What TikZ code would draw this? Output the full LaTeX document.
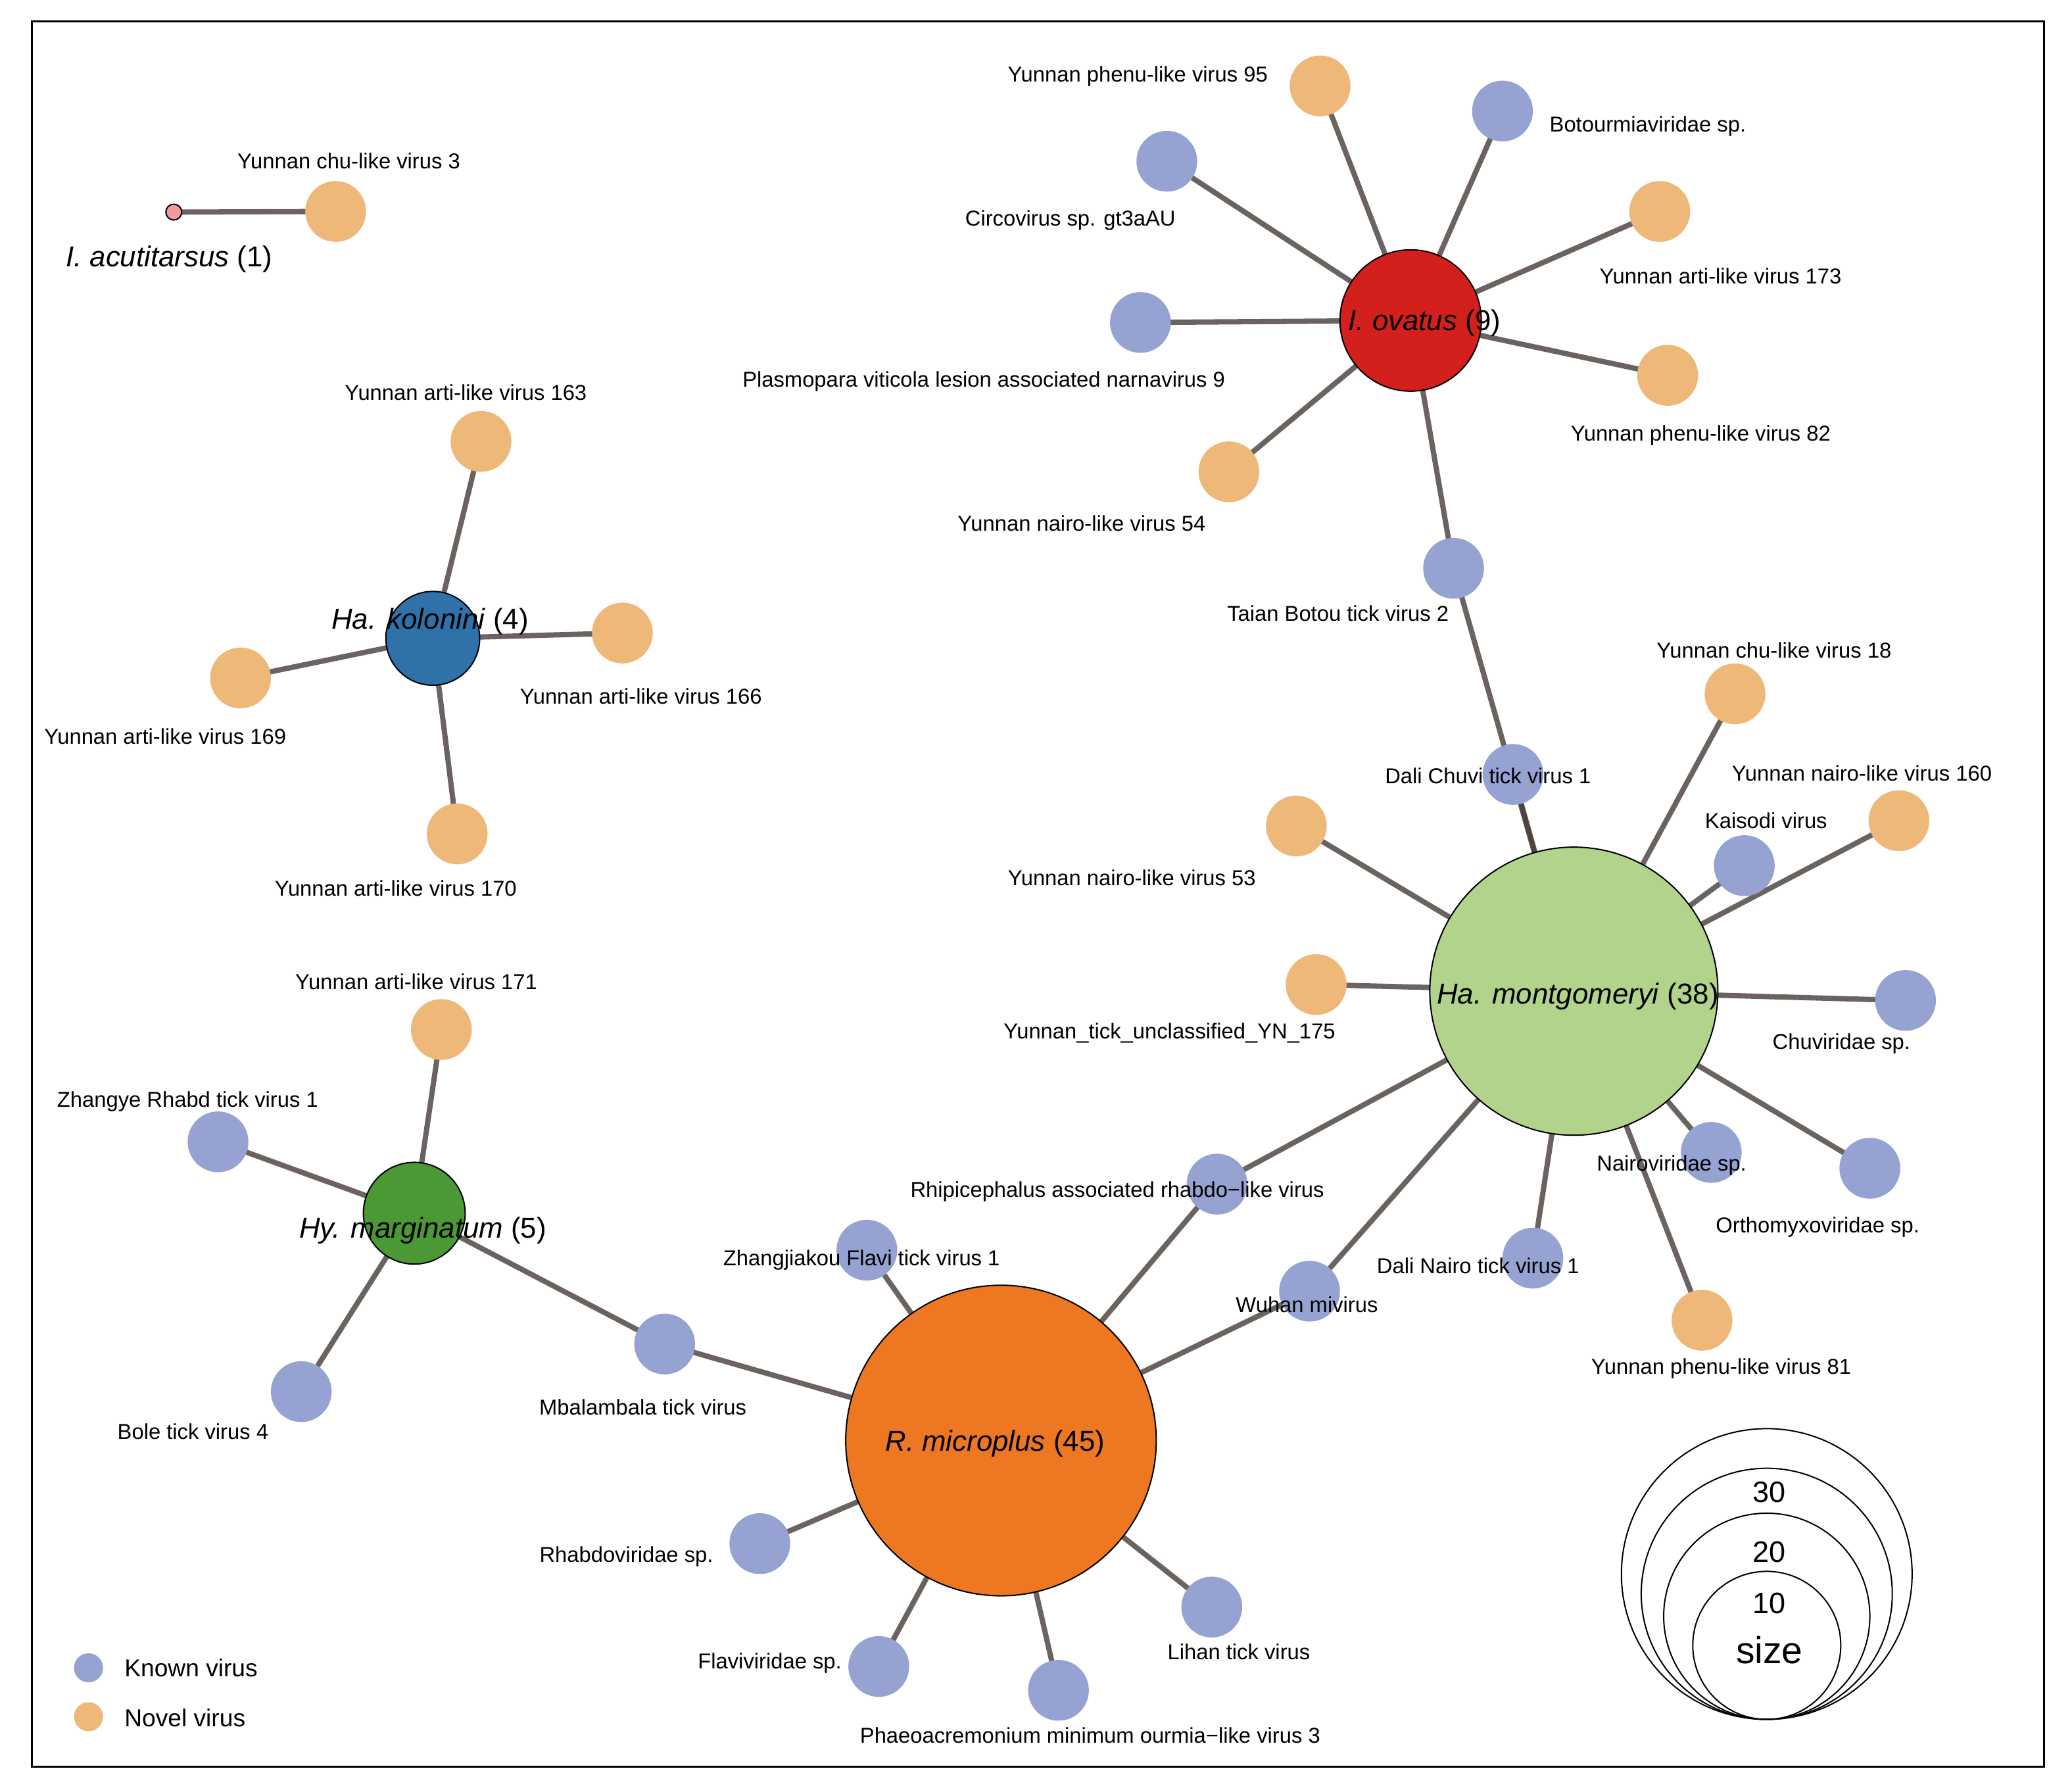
\documentclass[tikz,border=0pt]{standalone}
\usepackage{fontspec}
\setmainfont{Liberation Sans}
\pgfdeclarelayer{bg}
\pgfsetlayers{bg,main}
\definecolor{knowncol}{RGB}{149,162,210}
\definecolor{novelcol}{RGB}{237,184,120}
\definecolor{edgecol}{RGB}{70,60,55}
\definecolor{redhost}{RGB}{212,32,28}
\definecolor{lgreenhost}{RGB}{178,211,139}
\definecolor{orangehost}{RGB}{238,119,34}
\definecolor{greenhost}{RGB}{75,153,53}
\definecolor{bluehost}{RGB}{47,113,169}
\definecolor{pinkhost}{RGB}{241,154,155}
\tikzset{
  edge/.style={line width=4pt, draw=edgecol, draw opacity=0.8},
  known/.style={circle, fill=knowncol, minimum size=46pt, inner sep=0pt},
  novel/.style={circle, fill=novelcol, minimum size=46pt, inner sep=0pt},
  host/.style={circle, draw=black, line width=1pt, inner sep=0pt},
  lab/.style={font=\fontsize{16.3}{18}\selectfont, inner sep=0pt, text height=11.7pt, text depth=0pt},
  hlab/.style={font=\fontsize{21.8}{24}\selectfont, inner sep=0pt, text height=15.6pt, text depth=0pt},
  leglab/.style={font=\fontsize{18.5}{20}\selectfont, inner sep=0pt, text height=13.2pt, text depth=0pt, anchor=west},
  sizecirc/.style={circle, draw=black, line width=1pt, inner sep=0pt},
}
\begin{document}
\begin{tikzpicture}[x=1pt,y=-1pt]
\useasboundingbox (0,0) rectangle (1568,1339.6);
\node[draw=black, line width=1.5pt, minimum width=1523pt, minimum height=1321pt, inner sep=0pt] (frame) at (785.5,676.5) {};

% hosts
\node[host, fill=pinkhost, minimum size=12pt] (ia) at (131.5,160.5) {};
\node[host, fill=redhost, minimum size=107pt] (io) at (1067.5,242.5) {};
\node[host, fill=lgreenhost, minimum size=218pt] (hm) at (1191,750) {};
\node[host, fill=orangehost, minimum size=235pt] (rm) at (757.5,1090) {};
\node[host, fill=greenhost, minimum size=77pt] (hy) at (313.5,918) {};
\node[host, fill=bluehost, minimum size=71pt] (hk) at (327.5,483) {};

% viruses
\node[novel] (yc3) at (254,160) {};
\node[novel] (yp95) at (999,65) {};
\node[known] (boto) at (1137,84) {};
\node[known] (circo) at (883,122) {};
\node[novel] (ya173) at (1256,160) {};
\node[known] (plasmo) at (863,244) {};
\node[novel] (yp82) at (1262,284) {};
\node[novel] (yn54) at (930,357) {};
\node[known] (taian) at (1100,430) {};
\node[known] (dchuvi) at (1145,586) {};
\node[novel] (yc18) at (1313,525) {};
\node[novel] (yn160) at (1437,621) {};
\node[known] (kais) at (1320,655) {};
\node[novel] (yn53) at (981,625) {};
\node[novel] (yt175) at (996,745) {};
\node[known] (chuv) at (1442,757) {};
\node[known] (nairov) at (1295,872) {};
\node[known] (ortho) at (1415,884) {};
\node[known] (dnairo) at (1160,952) {};
\node[novel] (yp81) at (1288,999) {};
\node[known] (rhipi) at (921,896) {};
\node[known] (wuhan) at (991,977) {};
\node[known] (zhangj) at (656,946) {};
\node[known] (mbal) at (503,1017) {};
\node[known] (rhabdo) at (575,1168) {};
\node[known] (flavi) at (665,1261) {};
\node[known] (phaeo) at (801,1279) {};
\node[known] (lihan) at (917,1216) {};
\node[novel] (ya171) at (334,779) {};
\node[known] (zhangye) at (165,864) {};
\node[known] (bole) at (228,1053) {};
\node[novel] (ya163) at (364,334) {};
\node[novel] (ya166) at (471,479) {};
\node[novel] (ya169) at (182,513) {};
\node[novel] (ya170) at (346,631) {};

% edges
\begin{pgfonlayer}{bg}
\draw[edge] (ia.center) -- (yc3.center);
\foreach \v in {yp95,boto,circo,ya173,plasmo,yp82,yn54,taian}
  \draw[edge] (io.center) -- (\v.center);
\foreach \v in {taian,dchuvi,yc18,yn160,kais,yn53,yt175,chuv,nairov,ortho,dnairo,yp81,rhipi,wuhan}
  \draw[edge] (hm.center) -- (\v.center);
\foreach \v in {rhipi,wuhan,zhangj,mbal,rhabdo,flavi,phaeo,lihan}
  \draw[edge] (rm.center) -- (\v.center);
\foreach \v in {ya171,zhangye,bole,mbal}
  \draw[edge] (hy.center) -- (\v.center);
\foreach \v in {ya163,ya166,ya169,ya170}
  \draw[edge] (hk.center) -- (\v.center);
\end{pgfonlayer}

% host labels
\node[hlab] (lia) at (128,194) {\itshape I. acutitarsus\/\upshape\ (1)};
\node[hlab] (lio) at (1078,242) {\itshape I. ovatus\/\upshape\ (9)};
\node[hlab] (lhm) at (1194,752) {\itshape Ha. montgomeryi\/\upshape\ (38)};
\node[hlab] (lrm) at (753,1090) {\itshape R. microplus\/\upshape\ (45)};
\node[hlab] (lhy) at (320,929) {\itshape Hy. marginatum\/\upshape\ (5)};
\node[hlab] (lhk) at (325.5,468) {\itshape Ha. kolonini\/\upshape\ (4)};

% virus labels
\node[lab] (lyc3) at (264,122) {Yunnan chu-like virus 3};
\node[lab] (lyp95) at (861,56) {Yunnan phenu-like virus 95};
\node[lab] (lboto) at (1247,94) {Botourmiaviridae sp.};
\node[lab] (lcirco) at (810,165) {Circovirus sp. gt3aAU};
\node[lab] (lya173) at (1302,209) {Yunnan arti-like virus 173};
\node[lab] (lplasmo) at (744.5,287) {Plasmopara viticola lesion associated narnavirus 9};
\node[lab] (lyp82) at (1287,328) {Yunnan phenu-like virus 82};
\node[lab] (lyn54) at (818.5,396) {Yunnan nairo-like virus 54};
\node[lab] (ltaian) at (1012.5,464) {Taian Botou tick virus 2};
\node[lab] (lya163) at (352.5,297) {Yunnan arti-like virus 163};
\node[lab] (lya166) at (485,527) {Yunnan arti-like virus 166};
\node[lab] (lya169) at (125,557) {Yunnan arti-like virus 169};
\node[lab] (lya170) at (299.5,672) {Yunnan arti-like virus 170};
\node[lab] (lya171) at (315,743) {Yunnan arti-like virus 171};
\node[lab] (lzhangye) at (142,832) {Zhangye Rhabd tick virus 1};
\node[lab] (lbole) at (146,1083) {Bole tick virus 4};
\node[lab] (lmbal) at (486.5,1065) {Mbalambala tick virus};
\node[lab] (lzhangj) at (652,952) {Zhangjiakou Flavi tick virus 1};
\node[lab] (lrhipi) at (845.5,900) {Rhipicephalus associated rhabdo−like virus};
\node[lab] (lwuhan) at (989,987) {Wuhan mivirus};
\node[lab] (lrhabdo) at (474,1176) {Rhabdoviridae sp.};
\node[lab] (lflavi) at (582.5,1257) {Flaviviridae sp.};
\node[lab] (lphaeo) at (825,1313) {Phaeoacremonium minimum ourmia−like virus 3};
\node[lab] (llihan) at (937.5,1250) {Lihan tick virus};
\node[lab] (ldchuvi) at (1126,587) {Dali Chuvi tick virus 1};
\node[lab] (ldnairo) at (1118.5,958) {Dali Nairo tick virus 1};
\node[lab] (lyc18) at (1342.5,492) {Yunnan chu-like virus 18};
\node[lab] (lyn160) at (1409,585) {Yunnan nairo-like virus 160};
\node[lab] (lkais) at (1336.5,621) {Kaisodi virus};
\node[lab] (lyn53) at (856.5,664) {Yunnan nairo-like virus 53};
\node[lab] (lyt175) at (885,780) {Yunnan\_tick\_unclassified\_YN\_175};
\node[lab] (lchuv) at (1393.5,788) {Chuviridae sp.};
\node[lab] (lnairov) at (1265,880) {Nairoviridae sp.};
\node[lab] (lortho) at (1375.5,927) {Orthomyxoviridae sp.};
\node[lab] (lyp81) at (1302.5,1034) {Yunnan phenu-like virus 81};

% type legend
\node[circle, fill=knowncol, minimum size=22pt, inner sep=0pt] (kdot) at (67,1262) {};
\node[circle, fill=novelcol, minimum size=22pt, inner sep=0pt] (ndot) at (67,1299) {};
\node[leglab] (kl) at (94,1262) {Known virus};
\node[leglab] (nl) at (94,1300) {Novel virus};

% size legend
\node[sizecirc, minimum size=220pt] (s30) at (1337,1191) {};
\node[sizecirc, minimum size=190pt] (s20) at (1337,1206) {};
\node[sizecirc, minimum size=156pt] (s10) at (1337,1223) {};
\node[sizecirc, minimum size=112pt] (s0) at (1337,1245) {};
\node[font=\fontsize{22.4}{24}\selectfont, inner sep=0pt, text height=16pt, text depth=0pt] (t30) at (1339,1129) {30};
\node[font=\fontsize{22.4}{24}\selectfont, inner sep=0pt, text height=16pt, text depth=0pt] (t20) at (1339,1174) {20};
\node[font=\fontsize{22.4}{24}\selectfont, inner sep=0pt, text height=16pt, text depth=0pt] (t10) at (1339,1213) {10};
\node[font=\fontsize{28.4}{30}\selectfont, inner sep=0pt, text height=15pt, text depth=0pt] (tsize) at (1339,1251) {size};
\end{tikzpicture}
\end{document}
